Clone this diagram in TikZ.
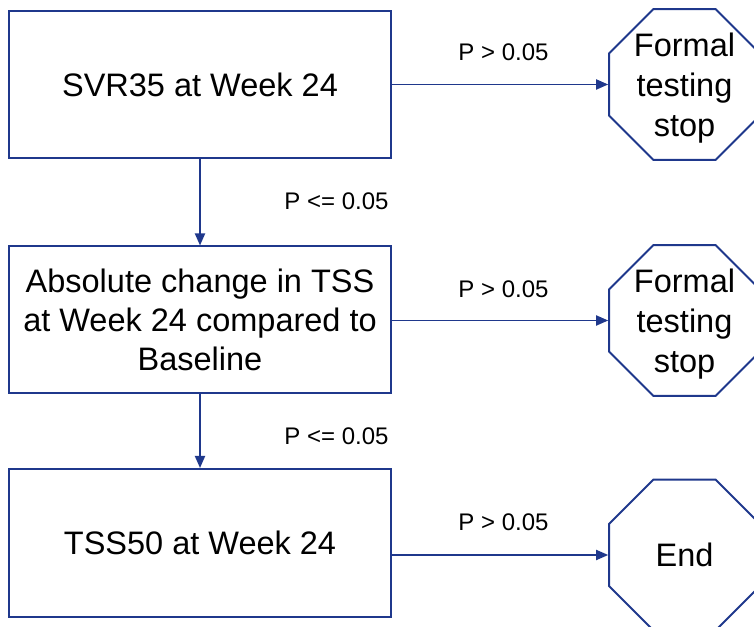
\documentclass[tikz,border=0pt]{standalone}
\usepackage{fontspec}
\setmainfont{Liberation Sans}
\usetikzlibrary{shapes.geometric,arrows.meta}
\definecolor{flowblue}{RGB}{31,56,140}
\begin{document}
\begin{tikzpicture}[x=1pt,y=1pt,
  stepbox/.style={draw=flowblue,line width=2pt,minimum width=382pt,minimum height=147pt,
    inner sep=0pt,align=center,font=\fontsize{32.5}{39}\selectfont},
  octbox/.style={draw=flowblue,line width=2pt,regular polygon,regular polygon sides=8,
    minimum size=163pt,inner sep=0pt},
  octtext/.style={align=center,font=\fontsize{32.5}{40}\selectfont},
  arr/.style={draw=flowblue,line width=1.8pt,-{Triangle[length=12pt,width=10pt]}},
  plabel/.style={font=\fontsize{24}{28}\selectfont}]
  \clip (0,0) rectangle (754,626);
  % decision steps
  \node[stepbox] (b1) at (200,541.5) {SVR35 at Week 24};
  \node[stepbox] (b2) at (200,306) {Absolute change in TSS\\at Week 24 compared to\\Baseline};
  \node[stepbox,minimum height=148pt] (b3) at (200,83) {TSS50 at Week 24};
  % terminal octagons
  \node[octbox] (o1) at (684.5,541.5) {};
  \node[octtext,yshift=-4pt] (t1) at (o1) {Formal\\testing\\stop};
  \node[octbox] (o2) at (684.5,305.5) {};
  \node[octtext,yshift=-4pt] (t2) at (o2) {Formal\\testing\\stop};
  \node[octbox] (o3) at (684.5,71) {};
  \node[octtext] (t3) at (o3) {End};
  % connectors
  \draw[arr] (b1.east) -- (o1.west);
  \draw[arr] (b2.east |- o2) -- (o2.west);
  \draw[arr] (b3.east |- o3) -- (o3.west);
  \draw[arr] (b1.south) -- (b2.north);
  \draw[arr] (b2.south) -- (b3.north);
  % branch conditions
  \node[plabel] (l1) at (503.5,574) {P > 0.05};
  \node[plabel] (l2) at (503.5,337) {P > 0.05};
  \node[plabel] (l3) at (503.5,104) {P > 0.05};
  \node[plabel] (l4) at (336.5,425) {P <= 0.05};
  \node[plabel] (l5) at (336.5,190) {P <= 0.05};
\end{tikzpicture}
\end{document}
